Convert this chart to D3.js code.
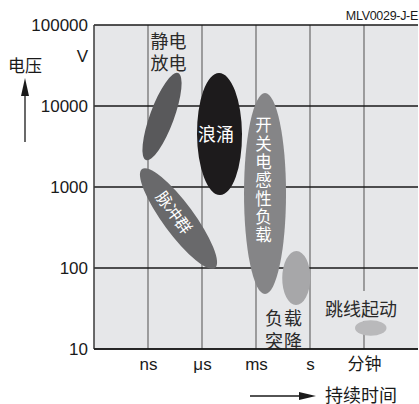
<!DOCTYPE html>
<html><head><meta charset="utf-8">
<script src="https://cdn.jsdelivr.net/npm/d3@7"></script>
<style>
html,body{margin:0;padding:0;background:#fff;}
svg{display:block;}
</style></head>
<body>
<svg id="chart" width="419" height="404"></svg>
<script>
// ---- data ----
const xLabels = ["ns", "μs", "ms", "s", "分钟"];
const xIndex = [1, 2, 3, 4, 5];
const yTicks = [10, 100, 1000, 10000, 100000];

const phenomena = ["静电放电", "脉冲群", "浪涌", "开关电感性负载", "负载突降", "跳线起动"];
// major-axis end points (time-decade index, voltage)
const startT = [1.556, 0.889, 2.315, 3.167, 3.75, 4.833];
const startV = [25500, 1667, 25500, 14450, 162, 18.15];
const endT   = [0.963, 2.241, 2.333, 3.167, 3.741, 5.417];
const endV   = [2150, 100, 796, 47.7, 34.9, 18.15];
const aspect = [0.259, 0.252, 0.369, 0.209, 0.519, 0.49];
// label anchors (time-decade index, voltage)
const labelT = [1.380, 1.5, 2.259, 3.139, 3.519, 4.944];
const labelV = [47700, 491, 4640, 1219, 17.9, 32.1];
const labelLines = [["静电", "放电"], ["脉冲群"], ["浪涌"], ["开关电感性负载"], ["负载", "突降"], ["跳线起动"]];

// ---- styles ----
const fills = ["#59595b", "#69696b", "#1d1b1c", "#858587", "#a7a7a9", "#b9b9bb"];
const labelColors = ["#2a2a2a", "#ffffff", "#ffffff", "#ffffff", "#2a2a2a", "#2a2a2a"];
const labelSize = [18, 16, 18, 16.5, 18, 18];
const lineGap = [21.7, 18, 18, 18.3, 23, 18];
const labelRotate = [0, 53.6, 0, 0, 0, 0];
const labelVertical = [false, false, false, true, false, false];
const latin = "'Liberation Sans', Arial, Helvetica, sans-serif";
const cjk = "'Noto Sans CJK SC', 'Noto Sans CJK JP', sans-serif";
const bg = "#e6e7e9";

const svg = d3.select("#chart");
const pL = 94, pR = 418, pT = 25, pB = 349;
const x = d3.scaleLinear().domain([0, 6]).range([pL, pR]);
const y = d3.scaleLog().domain([10, 100000]).range([pB, pT]);

// plot background
svg.append("rect").attr("x", pL).attr("y", pT)
  .attr("width", pR - pL).attr("height", pB - pT).attr("fill", bg);

// vertical grid
svg.append("g").selectAll("line").data(xIndex).join("line")
  .attr("x1", d => x(d)).attr("x2", d => x(d))
  .attr("y1", pT).attr("y2", pB)
  .attr("stroke", "#6a6a6a").attr("stroke-width", 1.2);

// horizontal grid
svg.append("g").selectAll("line").data(yTicks).join("line")
  .attr("x1", pL).attr("x2", pR)
  .attr("y1", d => y(d)).attr("y2", d => y(d))
  .attr("stroke", "#1a1a1a").attr("stroke-width", 1.3);

// left axis line
svg.append("line").attr("x1", pL).attr("x2", pL).attr("y1", pT).attr("y2", pB)
  .attr("stroke", "#3a3a3a").attr("stroke-width", 1.5);

// background patch behind the jump-start label (hides grid line)
{
  const i = 5;
  svg.append("rect")
    .attr("x", x(labelT[i]) - 40).attr("y", y(labelV[i]) - 17)
    .attr("width", 80).attr("height", 30).attr("fill", bg);
}

// ellipses
const eg = svg.append("g");
phenomena.forEach((name, i) => {
  const x1 = x(startT[i]), y1 = y(startV[i]);
  const x2 = x(endT[i]), y2 = y(endV[i]);
  const cx = (x1 + x2) / 2, cy = (y1 + y2) / 2;
  const a = Math.hypot(x2 - x1, y2 - y1) / 2;
  const ang = Math.atan2(y2 - y1, x2 - x1) * 180 / Math.PI;
  eg.append("ellipse")
    .attr("cx", cx).attr("cy", cy).attr("rx", a).attr("ry", a * aspect[i])
    .attr("transform", `rotate(${ang},${cx},${cy})`)
    .attr("fill", fills[i]);
});

// labels (one text element per phenomenon, lines as tspans)
phenomena.forEach((name, i) => {
  const lx = x(labelT[i]), ly = y(labelV[i]);
  const lines = labelLines[i];
  const n = lines.length;
  const t = svg.append("text")
    .attr("transform", `translate(${lx},${ly}) rotate(${labelRotate[i]})`)
    .attr("text-anchor", "middle")
    .attr("font-family", cjk).attr("font-size", labelSize[i])
    .attr("fill", labelColors[i]);
  if (labelVertical[i]) {
    t.attr("writing-mode", "vertical-rl")
      .style("writing-mode", "vertical-rl")
      .attr("letter-spacing", lineGap[i] - labelSize[i])
      .attr("x", 0).attr("y", (lineGap[i] - labelSize[i]) / 2)
      .text(lines[0]);
    return;
  }
  t.attr("dominant-baseline", "central").attr("letter-spacing", i === 4 ? 1 : 0);
  lines.forEach((ln, k) => {
    t.append("tspan").attr("x", 0)
      .attr("y", (k - (n - 1) / 2) * lineGap[i])
      .attr("dominant-baseline", "central")
      .text(ln);
  });
});

// y axis labels
const yAxis = d3.axisLeft(y).tickValues(yTicks).tickFormat(d3.format("d"))
  .tickSize(0).tickPadding(6);
const ya = svg.append("g").attr("transform", `translate(${pL},0)`).call(yAxis);
ya.select(".domain").remove();
ya.selectAll("text").attr("font-family", latin).attr("font-size", 17).attr("fill", "#1a1a1a")
  .attr("dy", "0.35em");

// x axis labels
const xAxis = d3.axisBottom(x).tickValues(xIndex).tickFormat((d, i) => xLabels[i])
  .tickSize(0).tickPadding(9);
const xa = svg.append("g").attr("transform", `translate(0,${pB})`).call(xAxis);
xa.select(".domain").remove();
xa.selectAll("text").attr("font-family", latin + ", " + cjk).attr("font-size", 17).attr("fill", "#1a1a1a");

// bottom axis line
svg.append("line").attr("x1", pL).attr("x2", pR).attr("y1", pB).attr("y2", pB)
  .attr("stroke", "#1a1a1a").attr("stroke-width", 1.5);

// Y unit and title
svg.append("text").attr("x", 88).attr("y", 56.5).attr("text-anchor", "end")
  .attr("dominant-baseline", "central").attr("font-family", latin).attr("font-size", 17)
  .attr("fill", "#1a1a1a").text("V");
svg.append("text").attr("x", 25).attr("y", 64.5).attr("text-anchor", "middle")
  .attr("dominant-baseline", "central").attr("font-family", cjk).attr("font-size", 17)
  .attr("fill", "#1a1a1a").text("电压");
// up arrow
svg.append("line").attr("x1", 25).attr("x2", 25).attr("y1", 142).attr("y2", 90)
  .attr("stroke", "#1a1a1a").attr("stroke-width", 1.3);
svg.append("path").attr("d", "M25,78 L29,96 L21,96 Z").attr("fill", "#1a1a1a");

// right arrow and x title
svg.append("line").attr("x1", 250).attr("x2", 303).attr("y1", 396).attr("y2", 396)
  .attr("stroke", "#1a1a1a").attr("stroke-width", 1.3);
svg.append("path").attr("d", "M316,396 L299,392 L299,400 Z").attr("fill", "#1a1a1a");
svg.append("text").attr("x", 325).attr("y", 394).attr("text-anchor", "start")
  .attr("dominant-baseline", "central").attr("font-family", cjk).attr("font-size", 18)
  .attr("fill", "#1a1a1a").text("持续时间");

// code label
svg.append("text").attr("x", 418).attr("y", 20).attr("text-anchor", "end")
  .attr("font-family", latin).attr("font-size", 12.5).attr("letter-spacing", -0.3)
  .attr("fill", "#1a1a1a").text("MLV0029-J-E");
</script>
</body></html>
